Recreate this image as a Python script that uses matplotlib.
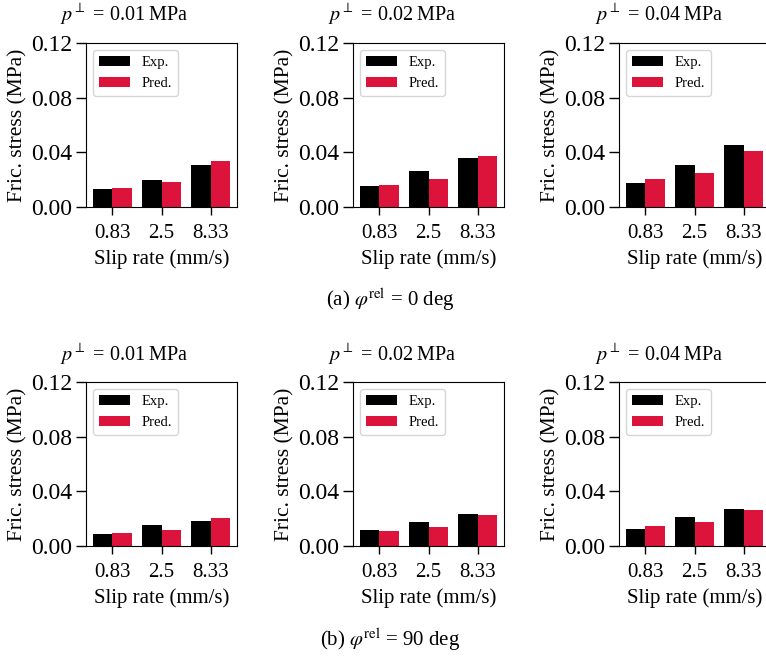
import numpy as np
import matplotlib
matplotlib.use('Agg')
import matplotlib.pyplot as plt

plt.rcParams['font.family'] = ['Liberation Serif', 'DejaVu Serif']
plt.rcParams['mathtext.fontset'] = 'stix'

##########
# THE DATA
##########
slip_rates = ['0.83', '2.5', '8.33']
pressures = ['0.01', '0.02', '0.04']

# phi_rel = 0 deg, one list per pressure
exp_0deg = [[0.0135, 0.0198, 0.0304],
            [0.0154, 0.0260, 0.0355],
            [0.0176, 0.0304, 0.0456]]
pred_0deg = [[0.0142, 0.0184, 0.0338],
             [0.0164, 0.0208, 0.0370],
             [0.0208, 0.0252, 0.0411]]

# phi_rel = 90 deg
exp_90deg = [[0.0088, 0.0154, 0.0181],
             [0.0115, 0.0174, 0.0235],
             [0.0122, 0.0211, 0.0269]]
pred_90deg = [[0.0096, 0.0115, 0.0203],
              [0.0108, 0.0137, 0.0228],
              [0.0144, 0.0174, 0.0262]]

captions = [r'(a) $\varphi^{\mathrm{rel}}$ = 0 deg',
            r'(b) $\varphi^{\mathrm{rel}}$ = 90 deg']

########
# LAYOUT
########
W, H = 766, 658
fig = plt.figure(figsize=(W / 100, H / 100), dpi=100)

col_left = [86, 353, 619]   # pixels
ax_w = 151
row_top = [43, 382]
ax_h = 164
title_x = [124, 392, 659]
title_y = [14, 353]
caption_y = [300, 640]

x = np.arange(len(slip_rates))
width = 0.4

for r, (exp_vals, pred_vals) in enumerate([(exp_0deg, pred_0deg), (exp_90deg, pred_90deg)]):
    for c in range(3):
        ax = fig.add_axes([col_left[c] / W, 1 - (row_top[r] + ax_h) / H, ax_w / W, ax_h / H])
        ax.bar(x - width / 2, exp_vals[c], width, color='black', label='Exp.')
        ax.bar(x + width / 2, pred_vals[c], width, color='#DC143C', label='Pred.')
        ax.set_ylim(0, 0.12)
        ax.set_yticks([0.0, 0.04, 0.08, 0.12])
        ax.set_yticklabels(['0.00', '0.04', '0.08', '0.12'])
        ax.set_xticks(x)
        ax.set_xticklabels(slip_rates)
        ax.tick_params(axis='y', labelsize=17, length=7, width=1, pad=3)
        ax.tick_params(axis='x', labelsize=15, length=6, width=1, pad=6)
        ax.set_xlabel('Slip rate (mm/s)', fontsize=15, labelpad=5)
        ax.set_ylabel('Fric. stress (MPa)', fontsize=15.5)
        ax.yaxis.set_label_coords(-0.39, 0.5)
        ax.legend(loc='upper left', fontsize=10.5, handlelength=2.1, fancybox=True,
                  borderaxespad=0.5, framealpha=0.8)
        fig.text(title_x[c] / W, 1 - title_y[r] / H,
                 r'$p^{\perp}$ = ' + pressures[c] + '\u2009MPa',
                 ha='center', va='center', fontsize=14.5)
    fig.text(390 / W, 1 - caption_y[r] / H, captions[r], ha='center', va='center', fontsize=15)

plt.savefig('out.png', dpi=100)
